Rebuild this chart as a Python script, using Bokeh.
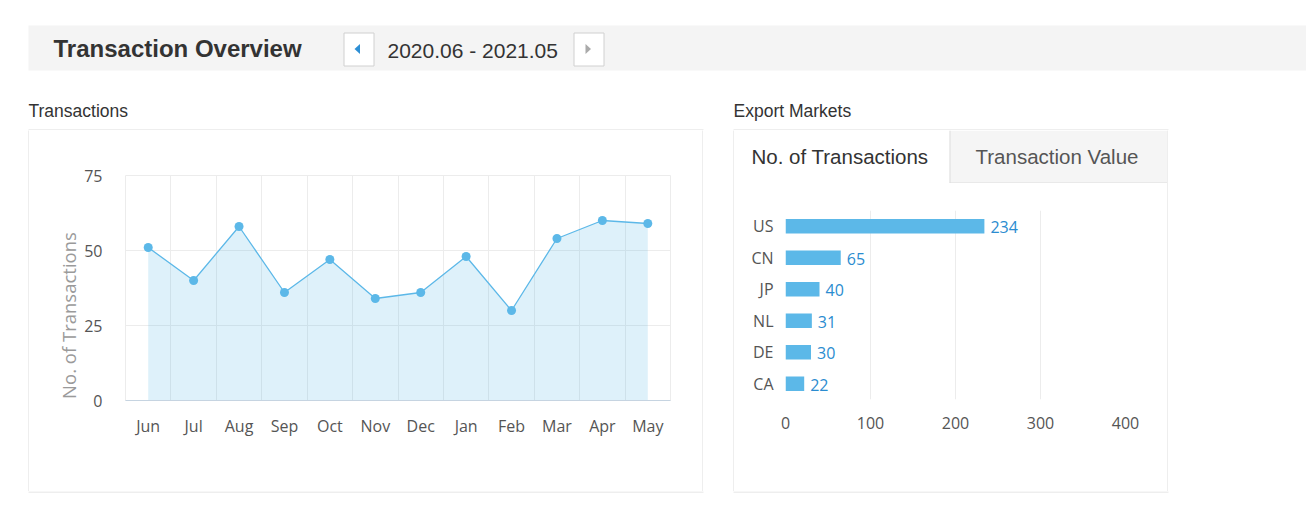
import math
import numpy as np
from bokeh.plotting import figure
from bokeh.models import Range1d, FactorRange, FixedTicker, Spacer, ColumnDataSource
from bokeh.layouts import column, row
from bokeh.core.properties import value
from bokeh.embed import file_html
from bokeh.resources import INLINE

# ---------------- data ----------------
months = ["Jun", "Jul", "Aug", "Sep", "Oct", "Nov", "Dec", "Jan", "Feb", "Mar", "Apr", "May"]
transactions = [51, 40, 58, 36, 47, 34, 36, 48, 30, 54, 60, 59]
y_ticks = [0, 25, 50, 75]

countries = ["US", "CN", "JP", "NL", "DE", "CA"]
country_counts = [234, 65, 40, 31, 30, 22]
x_ticks_bar = [0, 100, 200, 300, 400]

title_text = "Transaction Overview"
period_text = "2020.06 - 2021.05"
left_title = "Transactions"
right_title = "Export Markets"
tab_active = "No. of Transactions"
tab_inactive = "Transaction Value"
y_axis_title = "No. of Transactions"

# ---------------- styles ----------------
BORDER = "#dddddd"
BLUE = "#5cb8e8"
LABEL_BLUE = "#2b8cd0"
AXIS_TXT = "#555555"
UI_FONT = "Liberation Sans"
CHART_FONT = "Open Sans"


def base_fig(w, h, xr, yr):
    return figure(width=w, height=h, x_range=xr, y_range=yr, min_border=0,
                  toolbar_location=None, output_backend="svg",
                  x_axis_type=None, y_axis_type=None, outline_line_color=None,
                  background_fill_color="white", border_fill_color="white",
                  frame_align=False)


def strip(w, h):
    return figure(width=w, height=h, min_border=0, toolbar_location=None,
                  output_backend="svg", x_axis_type=None, y_axis_type=None,
                  outline_line_color=None, background_fill_color=BORDER,
                  border_fill_color=BORDER, frame_align=False)


def style_axis(ax, standoff):
    ax.major_tick_line_color = None
    ax.minor_tick_line_color = None
    ax.major_tick_out = 0
    ax.major_tick_in = 0
    ax.minor_tick_out = 0
    ax.major_label_standoff = standoff
    ax.major_label_text_font = CHART_FONT
    ax.major_label_text_font_size = "16px"
    ax.major_label_text_color = AXIS_TXT


# ---------------- header (page coordinates) ----------------
hdr = base_fig(1306, 130, Range1d(0, 1306), Range1d(130, 0))
hdr.quad(left=28, right=1306, top=25, bottom=70, fill_color="#f4f4f4", line_color=None)
hdr.quad(left=343.5, right=373.5, top=32.5, bottom=65.5, fill_color="white", line_color="#d0d0d0")
hdr.quad(left=573.5, right=603.5, top=32.5, bottom=65.5, fill_color="white", line_color="#d0d0d0")
hdr.patch(x=[354, 359.5, 359.5], y=[48.5, 43.5, 53.5], fill_color="#2d8fd5", line_color=None)
hdr.patch(x=[585, 590.5, 585], y=[43.5, 48.5, 53.5], fill_color="#aaaaaa", line_color=None)
hdr.text(x=[53], y=[48], text=[title_text], text_font=value(UI_FONT), text_font_size="24px",
         text_font_style="bold", text_color="#333333", text_baseline="middle")
hdr.text(x=[387], y=[50], text=[period_text], text_font=value(UI_FONT), text_font_size="21px",
         text_color="#333333", text_baseline="middle")
hdr.text(x=[28], y=[110], text=[left_title], text_font=value(UI_FONT), text_font_size="17.5px",
         text_color="#333333", text_baseline="middle")
hdr.text(x=[733], y=[110], text=[right_title], text_font=value(UI_FONT), text_font_size="17.5px",
         text_color="#333333", text_baseline="middle")
hdr.quad(left=28, right=703, top=129, bottom=130, fill_color=BORDER, line_color=None)
hdr.quad(left=733, right=1168, top=129, bottom=130, fill_color=BORDER, line_color=None)

# ---------------- y-axis title of line chart ----------------
ytf = base_fig(52, 361, Range1d(29, 81), Range1d(491, 130))
ytf.text(x=[68], y=[315], text=[y_axis_title], angle=math.pi / 2, text_align="center",
         text_baseline="middle", text_font=value(CHART_FONT), text_font_size="18.5px",
         text_color="#9a9a9a")

# ---------------- line chart ----------------
idx = np.arange(len(months))
src = ColumnDataSource(dict(x=idx, y=transactions))
lp = figure(width=621, height=361, x_range=Range1d(-0.5, len(months) - 0.5),
            y_range=Range1d(y_ticks[0], y_ticks[-1]),
            min_border_left=42, min_border_right=32, min_border_top=45, min_border_bottom=91,
            toolbar_location=None, output_backend="svg", outline_line_color="#ececec",
            background_fill_color="white", border_fill_color="white", frame_align=False)
lp.varea(x="x", y1=0, y2="y", source=src, fill_color=BLUE, fill_alpha=0.2)
lp.line(x="x", y="y", source=src, line_color=BLUE, line_width=1.3)
lp.scatter(x="x", y="y", source=src, size=9, fill_color=BLUE, line_color=None)

lp.xaxis.ticker = FixedTicker(ticks=list(idx))
lp.xaxis.major_label_overrides = {int(i): m for i, m in zip(idx, months)}
lp.xgrid.ticker = FixedTicker(ticks=[float(i) - 0.5 for i in range(len(months) + 1)])
lp.yaxis.ticker = FixedTicker(ticks=y_ticks)
lp.ygrid.ticker = FixedTicker(ticks=y_ticks)
lp.grid.grid_line_color = "#ececec"
lp.grid.grid_line_width = 1
style_axis(lp.xaxis[0], 14)
style_axis(lp.yaxis[0], 23)
lp.xaxis.axis_line_color = "#c6d4e1"
lp.yaxis.axis_line_color = None

left_col = row(ytf, lp, spacing=0)

# ---------------- tabs ----------------
tabs = base_fig(433, 53, Range1d(734, 1167), Range1d(183, 130))
tabs.quad(left=949, right=1167, top=130, bottom=183, fill_color="#f5f5f5", line_color=None)
tabs.quad(left=949, right=950, top=130, bottom=183, fill_color=BORDER, line_color=None)
tabs.quad(left=949, right=1167, top=182, bottom=183, fill_color=BORDER, line_color=None)
tabs.text(x=[751], y=[156], text=[tab_active], text_font=value(UI_FONT), text_font_size="20.5px",
          text_color="#333333", text_baseline="middle")
tabs.text(x=[975], y=[156], text=[tab_inactive], text_font=value(UI_FONT), text_font_size="20.5px",
          text_color="#555555", text_baseline="middle")

# ---------------- bar chart ----------------
bsrc = ColumnDataSource(dict(c=countries, v=country_counts, t=[str(v) for v in country_counts]))
bp = figure(width=433, height=308, x_range=Range1d(x_ticks_bar[0], x_ticks_bar[-1]),
            y_range=FactorRange(*reversed(countries)),
            min_border_left=51, min_border_right=42, min_border_top=27, min_border_bottom=92,
            toolbar_location=None, output_backend="svg", outline_line_color=None,
            background_fill_color="white", border_fill_color="white", frame_align=False)
bp.hbar(y="c", right="v", left=0, height=0.46, source=bsrc, fill_color=BLUE, line_color=None)
bp.text(x="v", y="c", text="t", source=bsrc, x_offset=6, y_offset=1,
        text_font=value(CHART_FONT), text_font_size="16px", text_color=LABEL_BLUE,
        text_baseline="middle", text_align="left")
bp.xaxis.ticker = FixedTicker(ticks=x_ticks_bar)
bp.xgrid.ticker = FixedTicker(ticks=x_ticks_bar)
bp.xgrid.grid_line_color = "#ececec"
bp.ygrid.grid_line_color = None
style_axis(bp.xaxis[0], 17)
style_axis(bp.yaxis[0], 12)
bp.xaxis.axis_line_color = None
bp.yaxis.axis_line_color = None

right_col = column(tabs, bp, spacing=0)

lower = row(Spacer(width=28, height=361), strip(1, 361), left_col, strip(1, 361),
            Spacer(width=30, height=361), strip(1, 361), right_col, strip(1, 361), spacing=0)

# ---------------- bottom borders of panels ----------------
bot = base_fig(1306, 20, Range1d(0, 1306), Range1d(511, 491))
bot.quad(left=28, right=703, top=491, bottom=492, fill_color=BORDER, line_color=None)
bot.quad(left=733, right=1168, top=491, bottom=492, fill_color=BORDER, line_color=None)

page = column(hdr, lower, bot, spacing=0)

open("out.html", "w").write(file_html(page, INLINE))
